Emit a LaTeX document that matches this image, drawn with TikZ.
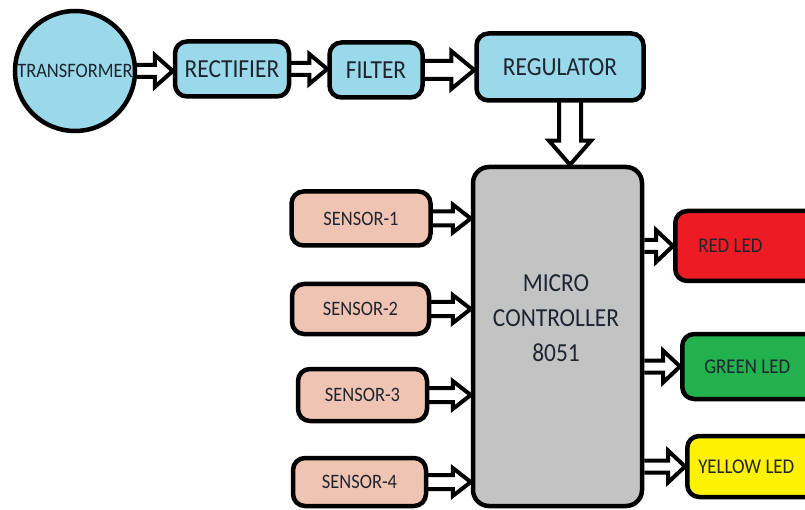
\documentclass[tikz,border=0pt]{standalone}
\usepackage{fontspec}
\setmainfont{Carlito}
\newfontfamily\condfont[FakeStretch=0.9]{Carlito}
\usetikzlibrary{calc,backgrounds}
\definecolor{skyb}{HTML}{99D9EA}
\definecolor{sensc}{HTML}{F0C4B2}
\definecolor{mcgray}{HTML}{C3C3C3}
\definecolor{ledred}{HTML}{ED1C24}
\definecolor{ledgreen}{HTML}{22B14C}
\definecolor{ledyellow}{HTML}{FFF200}
\definecolor{txt}{HTML}{1F2530}
\tikzset{
  blk/.style={draw=black, line width=4.5pt, rounded corners=12pt, inner sep=0pt, text=txt},
  pwr/.style={blk, fill=skyb, font=\condfont\fontsize{26}{28}\selectfont},
  sens/.style={blk, fill=sensc, font=\condfont\fontsize{20.5}{22}\selectfont},
  ledbox/.style={blk, anchor=west, font=\condfont\fontsize{21}{22}\selectfont},
  mcbox/.style={blk, fill=mcgray, rounded corners=16pt},
  mclabel/.style={text=txt, inner sep=0pt, align=center, font=\condfont\fontsize{26}{35}\selectfont},
  arr/.style={draw=black, fill=white, line width=4pt, line join=miter},
}
% right-pointing block arrow: #1 start (x,y), #2 end (x), #3 shaft half, #4 head half, #5 head length
\newcommand{\rarrow}[5]{%
  \draw[arr] let \p1=(#1), \p2=(#2) in
    (\x1,\y1+#3pt) -- (\x2-#5pt,\y1+#3pt) -- (\x2-#5pt,\y1+#4pt) -- (\x2,\y1)
    -- (\x2-#5pt,\y1-#4pt) -- (\x2-#5pt,\y1-#3pt) -- (\x1,\y1-#3pt);}
% downward block arrow: #1 start (x,y), #2 end (y)
\newcommand{\darrow}[5]{%
  \draw[arr] let \p1=(#1), \p2=(#2) in
    (\x1+#3pt,\y1) -- (\x1+#3pt,\y2+#5pt) -- (\x1+#4pt,\y2+#5pt) -- (\x1,\y2)
    -- (\x1-#4pt,\y2+#5pt) -- (\x1-#3pt,\y2+#5pt) -- (\x1-#3pt,\y1);}
\begin{document}
\begin{tikzpicture}[x=1pt,y=-1pt]
\useasboundingbox (0,0) rectangle (805,510);

% power chain
\node[blk, circle, fill=skyb, minimum size=120pt, font=\condfont\fontsize{20.5}{22}\selectfont] (tr) at (75,71) {TRANSFORMER};
\node[pwr, minimum width=114pt, minimum height=55pt] (rect) at (232,69) {RECTIFIER};
\node[pwr, minimum width=93pt, minimum height=55pt] (filt) at (376,70) {FILTER};
\node[pwr, minimum width=167pt, minimum height=67pt] (reg) at (560,67) {REGULATOR};

% microcontroller
\node[mcbox, minimum width=169pt, minimum height=339pt] (mc) at (557.5,336.5) {};
\node[mclabel] (mctxt) at (556,318) {MICRO\\CONTROLLER\\8051};

% sensors
\node[sens, minimum width=139pt, minimum height=54pt] (s1) at (361,218.5) {SENSOR-1};
\node[sens, minimum width=137pt, minimum height=50pt] (s2) at (360.5,309) {SENSOR-2};
\node[sens, minimum width=129pt, minimum height=52pt] (s3) at (362.5,395) {SENSOR-3};
\node[sens, minimum width=133pt, minimum height=48pt] (s4) at (359.5,482) {SENSOR-4};

% LEDs
\node[ledbox, fill=ledred, minimum height=70pt] (red) at (673,246) {\makebox[145pt][l]{\hspace{23pt}RED LED}};
\node[ledbox, fill=ledgreen, minimum height=65pt] (green) at (680,366.5) {\makebox[145pt][l]{\hspace{22pt}GREEN LED}};
\node[ledbox, fill=ledyellow, minimum height=61pt] (yellow) at (685,466.5) {\makebox[145pt][l]{\hspace{11pt}YELLOW LED}};

\begin{pgfonlayer}{background}
  \fill[white] (0,0) rectangle (805,510);
  \rarrow{[xshift=-3pt]tr.east}{rect.west}{6}{16}{18}
  \rarrow{[xshift=-3pt]rect.east}{filt.west}{6}{15}{18}
  \rarrow{[xshift=-3pt]filt.east}{reg.west}{9}{19}{23}
  \darrow{$(reg.south)+(10,-3)$}{mc.north}{11}{21}{24}
  \rarrow{[xshift=-3pt]s1.east}{mc.west}{7}{14}{18}
  \rarrow{[xshift=-3pt]s2.east}{mc.west}{7}{14}{18}
  \rarrow{[xshift=-3pt]s3.east}{mc.west}{7}{14}{18}
  \rarrow{[xshift=-3pt]s4.east}{mc.west}{7}{14}{18}
  \rarrow{mc.east |- red.west}{red.west}{6}{16}{17}
  \rarrow{mc.east |- green.west}{green.west}{6}{16}{17}
  \rarrow{mc.east |- yellow.west}{yellow.west}{6}{16}{17}
\end{pgfonlayer}
\end{tikzpicture}
\end{document}
